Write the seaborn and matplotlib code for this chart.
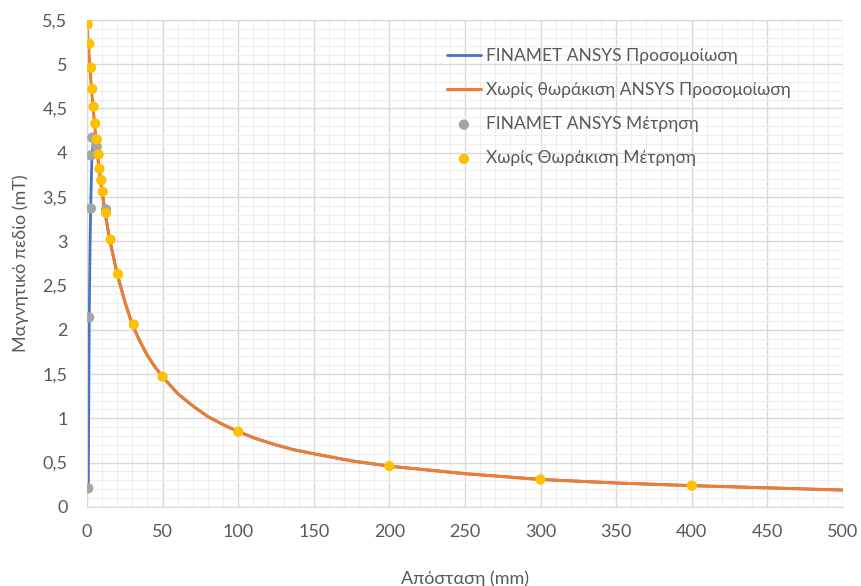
import numpy as np
import pandas as pd
import seaborn as sns
import matplotlib.pyplot as plt
from matplotlib.ticker import MultipleLocator, FuncFormatter

# simulation curve without shielding (ANSYS)
sim_x = [0, 1, 2, 3, 4, 5, 6, 7, 8, 9, 10, 12, 15, 20, 25, 30, 35, 40, 45, 50,
         60, 70, 80, 90, 100, 112, 125, 137, 150, 175, 200, 250, 300, 350, 400,
         450, 500]
sim_y = [5.45, 5.2, 4.95, 4.72, 4.52, 4.33, 4.15, 3.98, 3.82, 3.69, 3.56, 3.32,
         3.02, 2.63, 2.32, 2.06, 1.87, 1.71, 1.58, 1.47, 1.28, 1.14, 1.02, 0.93,
         0.85, 0.77, 0.70, 0.645, 0.60, 0.52, 0.46, 0.375, 0.31, 0.27, 0.24,
         0.215, 0.19]

# FINAMET simulation curve (ANSYS) - rises fast, then runs under the unshielded one
fin_sim_x = [0.9, 1.2, 1.5, 2.0, 2.6, 3.2, 4.0, 5.0, 6.0, 7, 8, 9, 10, 12, 15, 20,
             25, 30, 35, 40, 45, 50, 60, 70, 80, 90, 100, 112, 125, 137, 150,
             175, 200, 250, 300, 350, 400, 450, 500]
fin_sim_y = [0.21, 1.2, 2.14, 2.9, 3.5, 3.9, 4.1, 4.12, 4.1, 3.98, 3.82, 3.69,
             3.56, 3.32, 3.02, 2.63, 2.32, 2.06, 1.87, 1.71, 1.58, 1.47, 1.28,
             1.14, 1.02, 0.93, 0.85, 0.77, 0.70, 0.645, 0.60, 0.52, 0.46, 0.375,
             0.31, 0.27, 0.24, 0.215, 0.19]

# measurements
fin_meas_x = [0.9, 1.5, 2.6, 2.6, 3.5, 6.4, 12.6]
fin_meas_y = [0.21, 2.14, 3.37, 3.97, 4.17, 4.07, 3.36]

meas_x = [0.5, 1.5, 2.7, 3.5, 4.4, 5.5, 6.5, 7.7, 8.3, 9.5, 10.4, 12.6, 15.6,
          20.5, 31, 50, 100, 200, 300, 400]
meas_y = [5.45, 5.23, 4.96, 4.72, 4.52, 4.33, 4.15, 3.98, 3.82, 3.69, 3.56, 3.32,
          3.02, 2.63, 2.06, 1.47, 0.85, 0.46, 0.31, 0.24]

labels = ['FINAMET ANSYS Προσομοίωση', 'Χωρίς θωράκιση ANSYS Προσομοίωση',
          'FINAMET ANSYS Μέτρηση', 'Χωρίς Θωράκιση Μέτρηση']

sns.set_style('white')
plt.rcParams['font.family'] = ['Lato', 'DejaVu Sans']

fig = plt.figure(figsize=(8.61, 5.86), dpi=100)
ax = fig.add_axes([0.101, 0.135, 0.878, 0.831])

# grid
ax.xaxis.set_major_locator(MultipleLocator(50))
ax.xaxis.set_minor_locator(MultipleLocator(10))
ax.yaxis.set_major_locator(MultipleLocator(0.5))
ax.yaxis.set_minor_locator(MultipleLocator(0.1))
ax.grid(which='major', color='#D9D9D9', linewidth=1.0)
ax.grid(which='minor', color='#EEEEEE', linewidth=0.8)
ax.set_axisbelow(True)

sns.lineplot(x=fin_sim_x, y=fin_sim_y, ax=ax, color='#4472C4', linewidth=2,
             sort=False, label=labels[0])
sns.lineplot(x=sim_x, y=sim_y, ax=ax, color='#ED7D31', linewidth=2.2,
             sort=False, label=labels[1])
sns.scatterplot(x=fin_meas_x, y=fin_meas_y, ax=ax, color='#A5A5A5', s=55,
                edgecolor='none', label=labels[2], zorder=3)
sns.scatterplot(x=meas_x, y=meas_y, ax=ax, color='#FFC000', s=55,
                edgecolor='none', label=labels[3], zorder=4)

ax.set_xlim(0, 500)
ax.set_ylim(0, 5.5)

fmt = FuncFormatter(lambda v, p: ('%g' % round(v, 2)).replace('.', ','))
ax.yaxis.set_major_formatter(fmt)

for s in ['top', 'right']:
    ax.spines[s].set_visible(False)
for s in ['left', 'bottom']:
    ax.spines[s].set_color('#D9D9D9')

ax.tick_params(which='both', length=0, labelsize=13, colors='#595959')
ax.tick_params(axis='x', pad=12)
ax.tick_params(axis='y', pad=14)

ax.set_xlabel('Απόσταση (mm)', fontsize=13, color='#595959', labelpad=22)
ax.set_ylabel('Μαγνητικό πεδίο (mT)', fontsize=13, color='#595959', labelpad=10)

leg = ax.legend(loc='upper left', bbox_to_anchor=(0.455, 0.975), frameon=False,
                fontsize=12.5, labelspacing=1.05, handlelength=2.0,
                handletextpad=0.3, labelcolor='#595959')

fig.savefig('out.png', dpi=100)
